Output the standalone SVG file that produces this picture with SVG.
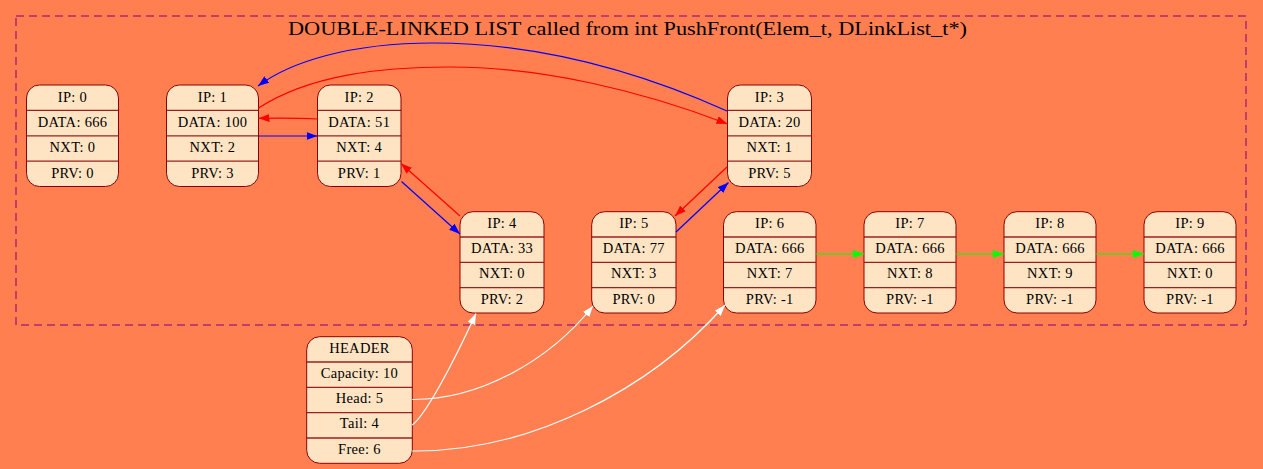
<svg xmlns="http://www.w3.org/2000/svg" width="1263" height="469" viewBox="0 0 1263 469">
<style>
.bg{fill:#FF7F50}
.cl{fill:none;stroke:#800080;stroke-width:1;stroke-dasharray:8,5}
.title{font-family:"Liberation Serif",serif;font-size:19.5px;fill:#000;text-anchor:middle}
.box{fill:#FFE4C4;stroke:#8B0000;stroke-width:1}
.sep{stroke:#8B0000;stroke-width:1.3;opacity:0.85}
.t{font-family:"Liberation Serif",serif;font-size:14.5px;letter-spacing:0.3px;fill:#000;text-anchor:middle}
.e{fill:none;stroke-width:1.2}
.b{stroke:#0000FF}
.r{stroke:#FF0000}
.g{stroke:#00FF00}
.w{stroke:#FFFFFF}
</style>
<defs>
<marker id="ab" viewBox="0 0 11 8" refX="11" refY="4" markerWidth="11" markerHeight="8" markerUnits="userSpaceOnUse" orient="auto"><path d="M0,0 L11,4 L0,8 z" fill="#0000FF"/></marker>
<marker id="ar" viewBox="0 0 11 8" refX="11" refY="4" markerWidth="11" markerHeight="8" markerUnits="userSpaceOnUse" orient="auto"><path d="M0,0 L11,4 L0,8 z" fill="#FF0000"/></marker>
<marker id="ag" viewBox="0 0 11 8" refX="11" refY="4" markerWidth="11" markerHeight="8" markerUnits="userSpaceOnUse" orient="auto"><path d="M0,0 L11,4 L0,8 z" fill="#00FF00"/></marker>
<marker id="aw" viewBox="0 0 11 8" refX="11" refY="4" markerWidth="11" markerHeight="8" markerUnits="userSpaceOnUse" orient="auto"><path d="M0,0 L11,4 L0,8 z" fill="#FFFFFF"/></marker>
</defs>
<rect class="bg" x="0" y="0" width="1263" height="469"/>
<g id="cluster">
<rect class="cl" x="16" y="16" width="1230" height="309"/>
<text class="title" x="627.5" y="35.3" textLength="679" lengthAdjust="spacingAndGlyphs">DOUBLE-LINKED LIST called from int PushFront(Elem_t, DLinkList_t*)</text>
</g>

<g id="node0">
<rect class="box" x="26.5" y="85" width="92" height="101.5" rx="13"/>
<line class="sep" x1="26.5" y1="110.4" x2="118.5" y2="110.4"/>
<line class="sep" x1="26.5" y1="135.8" x2="118.5" y2="135.8"/>
<line class="sep" x1="26.5" y1="161.1" x2="118.5" y2="161.1"/>
<text class="t" x="72.5" y="101.5">IP: 0</text>
<text class="t" x="72.5" y="126.8">DATA: 666</text>
<text class="t" x="72.5" y="152.2">NXT: 0</text>
<text class="t" x="72.5" y="177.5">PRV: 0</text>
</g>
<g id="node1">
<rect class="box" x="166.5" y="85" width="92" height="101.5" rx="13"/>
<line class="sep" x1="166.5" y1="110.4" x2="258.5" y2="110.4"/>
<line class="sep" x1="166.5" y1="135.8" x2="258.5" y2="135.8"/>
<line class="sep" x1="166.5" y1="161.1" x2="258.5" y2="161.1"/>
<text class="t" x="212.5" y="101.5">IP: 1</text>
<text class="t" x="212.5" y="126.8">DATA: 100</text>
<text class="t" x="212.5" y="152.2">NXT: 2</text>
<text class="t" x="212.5" y="177.5">PRV: 3</text>
</g>
<g id="node2">
<rect class="box" x="317.5" y="85" width="83.5" height="101.5" rx="13"/>
<line class="sep" x1="317.5" y1="110.4" x2="401" y2="110.4"/>
<line class="sep" x1="317.5" y1="135.8" x2="401" y2="135.8"/>
<line class="sep" x1="317.5" y1="161.1" x2="401" y2="161.1"/>
<text class="t" x="359.2" y="101.5">IP: 2</text>
<text class="t" x="359.2" y="126.8">DATA: 51</text>
<text class="t" x="359.2" y="152.2">NXT: 4</text>
<text class="t" x="359.2" y="177.5">PRV: 1</text>
</g>
<g id="node3">
<rect class="box" x="727.5" y="85" width="84" height="101.5" rx="13"/>
<line class="sep" x1="727.5" y1="110.4" x2="811.5" y2="110.4"/>
<line class="sep" x1="727.5" y1="135.8" x2="811.5" y2="135.8"/>
<line class="sep" x1="727.5" y1="161.1" x2="811.5" y2="161.1"/>
<text class="t" x="769.5" y="101.5">IP: 3</text>
<text class="t" x="769.5" y="126.8">DATA: 20</text>
<text class="t" x="769.5" y="152.2">NXT: 1</text>
<text class="t" x="769.5" y="177.5">PRV: 5</text>
</g>
<g id="node4">
<rect class="box" x="460" y="211.7" width="84" height="101.3" rx="13"/>
<line class="sep" x1="460" y1="237" x2="544" y2="237"/>
<line class="sep" x1="460" y1="262.4" x2="544" y2="262.4"/>
<line class="sep" x1="460" y1="287.7" x2="544" y2="287.7"/>
<text class="t" x="502" y="227.8">IP: 4</text>
<text class="t" x="502" y="253">DATA: 33</text>
<text class="t" x="502" y="278.4">NXT: 0</text>
<text class="t" x="502" y="303.6">PRV: 2</text>
</g>
<g id="node5">
<rect class="box" x="591.7" y="211.7" width="84.3" height="101.3" rx="13"/>
<line class="sep" x1="591.7" y1="237" x2="676" y2="237"/>
<line class="sep" x1="591.7" y1="262.4" x2="676" y2="262.4"/>
<line class="sep" x1="591.7" y1="287.7" x2="676" y2="287.7"/>
<text class="t" x="633.8" y="227.8">IP: 5</text>
<text class="t" x="633.8" y="253">DATA: 77</text>
<text class="t" x="633.8" y="278.4">NXT: 3</text>
<text class="t" x="633.8" y="303.6">PRV: 0</text>
</g>
<g id="node6">
<rect class="box" x="723.5" y="211.7" width="92.5" height="101.3" rx="13"/>
<line class="sep" x1="723.5" y1="237" x2="816" y2="237"/>
<line class="sep" x1="723.5" y1="262.4" x2="816" y2="262.4"/>
<line class="sep" x1="723.5" y1="287.7" x2="816" y2="287.7"/>
<text class="t" x="769.7" y="227.8">IP: 6</text>
<text class="t" x="769.7" y="253">DATA: 666</text>
<text class="t" x="769.7" y="278.4">NXT: 7</text>
<text class="t" x="769.7" y="303.6">PRV: -1</text>
</g>
<g id="node7">
<rect class="box" x="864" y="211.7" width="92" height="101.3" rx="13"/>
<line class="sep" x1="864" y1="237" x2="956" y2="237"/>
<line class="sep" x1="864" y1="262.4" x2="956" y2="262.4"/>
<line class="sep" x1="864" y1="287.7" x2="956" y2="287.7"/>
<text class="t" x="910" y="227.8">IP: 7</text>
<text class="t" x="910" y="253">DATA: 666</text>
<text class="t" x="910" y="278.4">NXT: 8</text>
<text class="t" x="910" y="303.6">PRV: -1</text>
</g>
<g id="node8">
<rect class="box" x="1004" y="211.7" width="92" height="101.3" rx="13"/>
<line class="sep" x1="1004" y1="237" x2="1096" y2="237"/>
<line class="sep" x1="1004" y1="262.4" x2="1096" y2="262.4"/>
<line class="sep" x1="1004" y1="287.7" x2="1096" y2="287.7"/>
<text class="t" x="1050" y="227.8">IP: 8</text>
<text class="t" x="1050" y="253">DATA: 666</text>
<text class="t" x="1050" y="278.4">NXT: 9</text>
<text class="t" x="1050" y="303.6">PRV: -1</text>
</g>
<g id="node9">
<rect class="box" x="1144" y="211.7" width="92" height="101.3" rx="13"/>
<line class="sep" x1="1144" y1="237" x2="1236" y2="237"/>
<line class="sep" x1="1144" y1="262.4" x2="1236" y2="262.4"/>
<line class="sep" x1="1144" y1="287.7" x2="1236" y2="287.7"/>
<text class="t" x="1190" y="227.8">IP: 9</text>
<text class="t" x="1190" y="253">DATA: 666</text>
<text class="t" x="1190" y="278.4">NXT: 0</text>
<text class="t" x="1190" y="303.6">PRV: -1</text>
</g>
<g id="header">
<rect class="box" x="306.7" y="336.7" width="105.6" height="126.6" rx="13"/>
<line class="sep" x1="306.7" y1="362" x2="412.3" y2="362"/>
<line class="sep" x1="306.7" y1="387.3" x2="412.3" y2="387.3"/>
<line class="sep" x1="306.7" y1="412.6" x2="412.3" y2="412.6"/>
<line class="sep" x1="306.7" y1="438" x2="412.3" y2="438"/>
<text class="t" x="359.5" y="352.5">HEADER</text>
<text class="t" x="359.5" y="377.6">Capacity: 10</text>
<text class="t" x="359.5" y="403">Head: 5</text>
<text class="t" x="359.5" y="428.3">Tail: 4</text>
<text class="t" x="359.5" y="453.7">Free: 6</text>
</g>

<g id="edges">
<path class="e b" d="M727,111 C640,72 540,43 433,43 C350,43 290,62 258,86" marker-end="url(#ab)"/>
<path class="e r" d="M258.5,108 C310,75 380,67 450,67 C540,67 640,90 727.5,124" marker-end="url(#ar)"/>
<path class="e r" d="M317.5,119 C300,118 285,117.8 258.5,118.3" marker-end="url(#ar)"/>
<path class="e b" d="M258.5,136 L317.5,136" marker-end="url(#ab)"/>
<path class="e r" d="M460,216 L401,163.5" marker-end="url(#ar)"/>
<path class="e b" d="M401.5,181.5 L460,234" marker-end="url(#ab)"/>
<path class="e r" d="M727,167 L675,216" marker-end="url(#ar)"/>
<path class="e b" d="M676,232 L728.5,182.5" marker-end="url(#ab)"/>
<path class="e g" d="M816,254 L864,254" marker-end="url(#ag)"/>
<path class="e g" d="M956,254 L1004,254" marker-end="url(#ag)"/>
<path class="e g" d="M1096,254 L1144,254" marker-end="url(#ag)"/>
<path class="e w" d="M412.3,399.5 C480,400 550,360 593,306" marker-end="url(#aw)"/>
<path class="e w" d="M412.3,425 C425,415 450,370 476,313.5" marker-end="url(#aw)"/>
<path class="e w" d="M412.3,451 C530,452 650,390 725,305" marker-end="url(#aw)"/>
</g>
</svg>
